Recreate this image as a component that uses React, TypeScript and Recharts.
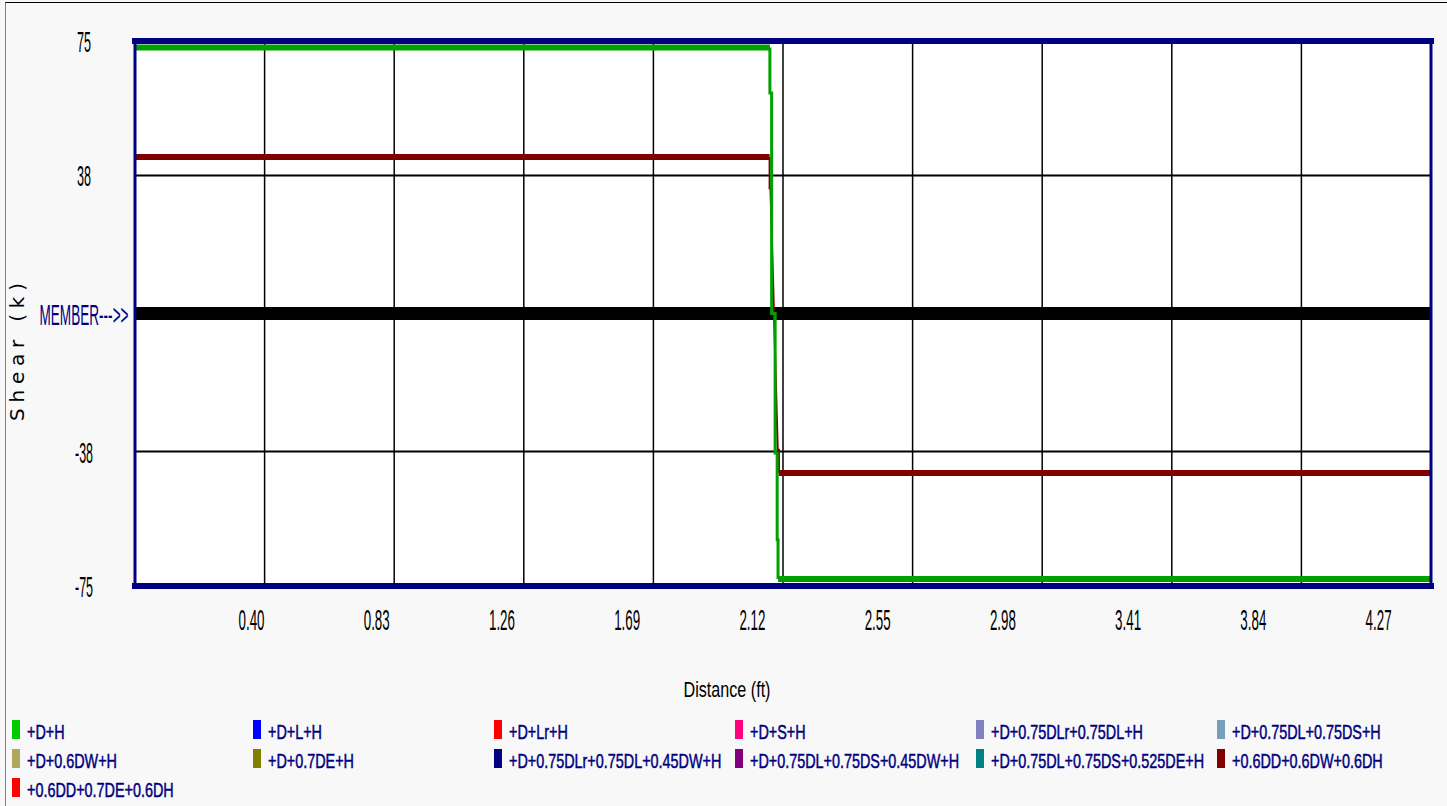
import { ComposedChart, Line, XAxis, YAxis, CartesianGrid, ReferenceLine } from "recharts";

// axis
const distanceTicks = [0.4, 0.83, 1.26, 1.69, 2.12, 2.55, 2.98, 3.41, 3.84, 4.27];
const shearTicks = [75, 38, 0, -38, -75];
const gridDivisions = [1, 2, 3, 4, 5, 6, 7, 8, 9];
const memberLength = 4.45;
const shearLimit = 75;

// +D+H
const greenDistance = [0, 2.18, 2.18, 2.186, 2.186, 2.198, 2.198, 2.205, 2.205, 2.208, 2.208, 4.45];
const greenShear = [73.2, 73.2, 60.7, 60.7, 0, 0, -38.4, -38.4, -62.3, -62.3, -73.1, -73.1];

// +0.6DD+0.6DW+0.6DH
const redDistance = [0, 2.179, 2.179, 2.182, 2.207, 2.211, 2.211, 4.45];
const redShear = [43.1, 43.1, 34.5, 34.5, -37.5, -37.5, -43.9, -43.9];

const legendNames = [
  "+D+H",
  "+D+L+H",
  "+D+Lr+H",
  "+D+S+H",
  "+D+0.75DLr+0.75DL+H",
  "+D+0.75DL+0.75DS+H",
  "+D+0.6DW+H",
  "+D+0.7DE+H",
  "+D+0.75DLr+0.75DL+0.45DW+H",
  "+D+0.75DL+0.75DS+0.45DW+H",
  "+D+0.75DL+0.75DS+0.525DE+H",
  "+0.6DD+0.6DW+0.6DH",
  "+0.6DD+0.7DE+0.6DH",
];
const legendColors = [
  "#00cc00",
  "#0000ff",
  "#ff0000",
  "#ff0080",
  "#8080c0",
  "#78a0b8",
  "#b0a860",
  "#808000",
  "#000080",
  "#800080",
  "#008080",
  "#800000",
  "#ff0000",
];

const NAVY = "#000080";
const narrowFont = "'Liberation Sans', Arial, sans-serif";

function toPoints(xs: number[], vs: number[]) {
  return xs.map((x, i) => ({ x, v: vs[i] }));
}

// the original uses a tall pixel font, squeeze the glyphs to that width
function tickWidth(s: string) {
  return s.split("").reduce((a, ch) => a + (ch === "." ? 5 : ch === "-" ? 4 : 7), 0);
}

function DistanceTick(props: any) {
  const { x, y, payload } = props;
  const label = payload.value.toFixed(2);
  return (
    <text
      x={x}
      y={y + 36}
      textAnchor="middle"
      fontSize={30}
      fontFamily={narrowFont}
      fill="#000"
      textLength={tickWidth(label)}
      lengthAdjust="spacingAndGlyphs"
    >
      {label}
    </text>
  );
}

function ShearTick(props: any) {
  const { x, y, payload } = props;
  const member = payload.value === 0;
  const label = member ? "MEMBER--->>" : String(payload.value);
  return (
    <text
      x={x - 43}
      y={y + 11}
      textAnchor="middle"
      fontSize={30}
      fontFamily={narrowFont}
      fill={member ? NAVY : "#000"}
      textLength={member ? 89 : tickWidth(label)}
      lengthAdjust="spacingAndGlyphs"
    >
      {label}
    </text>
  );
}

function segments(pts: { x: number; v: number }[]) {
  return {
    top: pts.slice(0, 2),
    drop: pts.slice(1, -1),
    bottom: pts.slice(-2),
  };
}

export default function App() {
  const green = segments(toPoints(greenDistance, greenShear));
  const red = segments(toPoints(redDistance, redShear));

  return (
    <div
      style={{
        position: "absolute",
        left: 0,
        top: 0,
        width: 1447,
        height: 806,
        background: "#f8f8f8",
        overflow: "hidden",
      }}
    >
      <div
        style={{
          position: "absolute",
          left: 5,
          top: 2,
          right: 0,
          bottom: 0,
          borderTop: "1px solid #000",
          borderLeft: "1px solid #808080",
        }}
      />
      <div style={{ position: "absolute", left: 0, top: 0 }}>
        <ComposedChart width={1447} height={806} margin={{ top: 41, right: 16, bottom: 190, left: 0 }}>
          <CartesianGrid vertical={false} stroke="#000" strokeWidth={2} fill="#fff" />
          {/* ten equal divisions of the member */}
          <CartesianGrid
            horizontal={false}
            stroke="#000"
            strokeWidth={1.5}
            verticalCoordinatesGenerator={({ offset }: any) =>
              gridDivisions.map((k) => offset.left + (offset.width * k) / 10)
            }
          />
          <XAxis
            type="number"
            dataKey="x"
            domain={[0, memberLength]}
            ticks={distanceTicks}
            interval={0}
            tick={<DistanceTick />}
            tickLine={false}
            axisLine={false}
            height={30}
          />
          <YAxis
            type="number"
            domain={[-shearLimit, shearLimit]}
            ticks={shearTicks}
            interval={0}
            width={135}
            tick={<ShearTick />}
            tickLine={false}
            axisLine={false}
          />

          <ReferenceLine y={0} stroke="#000" strokeWidth={13} />

          <Line data={red.drop} dataKey="v" type="linear" stroke="#800000" strokeWidth={2} dot={false} isAnimationActive={false} />
          <Line data={red.top} dataKey="v" type="linear" stroke="#800000" strokeWidth={6} dot={false} isAnimationActive={false} />
          <Line data={red.bottom} dataKey="v" type="linear" stroke="#800000" strokeWidth={6} dot={false} isAnimationActive={false} />
          <Line data={green.drop} dataKey="v" type="linear" stroke="#00a000" strokeWidth={3} dot={false} isAnimationActive={false} />
          <Line data={green.top} dataKey="v" type="linear" stroke="#00a000" strokeWidth={6} dot={false} isAnimationActive={false} />
          <Line data={green.bottom} dataKey="v" type="linear" stroke="#00a000" strokeWidth={6} dot={false} isAnimationActive={false} />

          <ReferenceLine y={shearLimit} stroke={NAVY} strokeWidth={6} strokeLinecap="square" />
          <ReferenceLine y={-shearLimit} stroke={NAVY} strokeWidth={6} strokeLinecap="square" />
          <ReferenceLine x={0} stroke={NAVY} strokeWidth={3} />
          <ReferenceLine x={memberLength} stroke={NAVY} strokeWidth={3} />
        </ComposedChart>
      </div>

      <svg width={1447} height={806} style={{ position: "absolute", left: 0, top: 0, pointerEvents: "none" }}>
        <text
          transform="translate(24,352) rotate(-90)"
          textAnchor="middle"
          fontSize={20}
          fontFamily="'DejaVu Sans', Verdana, sans-serif"
          fill="#000"
          textLength={138}
          lengthAdjust="spacing"
        >
          Shear (k)
        </text>
        <text
          x={727}
          y={697}
          textAnchor="middle"
          fontSize={22}
          fontFamily={narrowFont}
          fill="#000"
          textLength={87}
          lengthAdjust="spacingAndGlyphs"
        >
          Distance (ft)
        </text>
        {legendNames.map((name, i) => {
          const col = i % 6;
          const row = Math.floor(i / 6);
          const lx = 12 + col * 241;
          const ly = 720 + row * 29;
          return (
            <g key={name}>
              <rect x={lx} y={ly} width={8} height={19} fill={legendColors[i]} />
              <text
                transform={`translate(${lx + 15},${ly + 19}) scale(0.72,1)`}
                fontSize={20}
                fontFamily={narrowFont}
                fill={NAVY}
                stroke={NAVY}
                strokeWidth={0.5}
              >
                {name}
              </text>
            </g>
          );
        })}
      </svg>
    </div>
  );
}
